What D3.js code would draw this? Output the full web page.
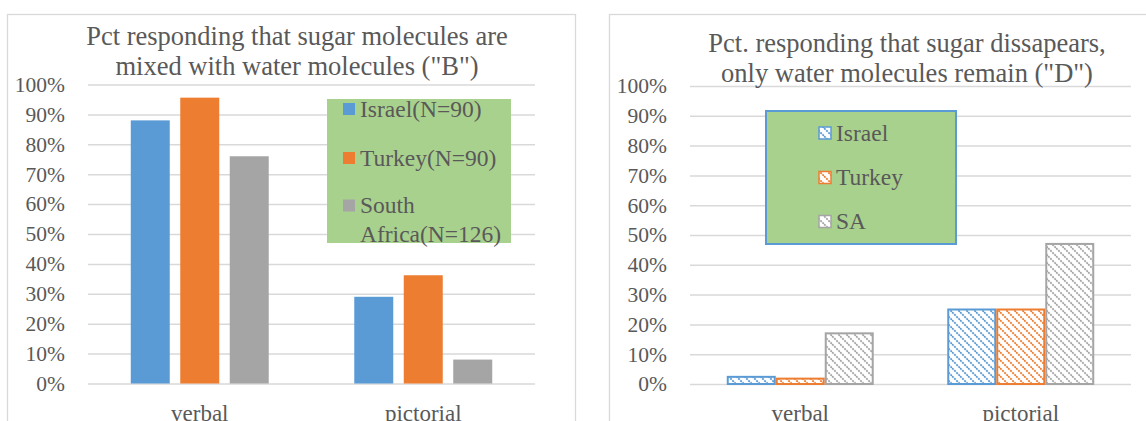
<!DOCTYPE html>
<html>
<head>
<meta charset="utf-8">
<script src="https://cdn.jsdelivr.net/npm/d3@7"></script>
<style>
  body { margin: 0; background: #fff; }
  svg { display: block; }
</style>
</head>
<body>
<script>
// values (percent)
var categories = ["verbal", "pictorial"];
var yTicks = [0, 10, 20, 30, 40, 50, 60, 70, 80, 90, 100];

var leftSeries = ["Israel(N=90)", "Turkey(N=90)", "South Africa(N=126)"];
var leftLegend = [["Israel(N=90)"], ["Turkey(N=90)"], ["South", "Africa(N=126)"]];
var leftIsrael = [88, 29];
var leftTurkey = [95.6, 36.2];
var leftSA = [76, 8];
var leftTitle = ["Pct responding that sugar molecules are", "mixed with water molecules (\"B\")"];

var rightSeries = ["Israel", "Turkey", "SA"];
var rightIsrael = [2.4, 25];
var rightTurkey = [1.8, 25];
var rightSA = [17, 47];
var rightTitle = ["Pct. responding that sugar dissapears,", "only water molecules remain (\"D\")"];

var colors = ["#5B9BD5", "#ED7D31", "#A5A5A5"];
var FONT = "Liberation Serif";
var INK = "#595959";

var svg = d3.select("body").append("svg")
    .attr("width", 1146)
    .attr("height", 421);

// hatch patterns for the right chart
var defs = svg.append("defs");
colors.forEach(function(c, i) {
    var p = defs.append("pattern")
        .attr("id", "hatch" + i)
        .attr("patternUnits", "userSpaceOnUse")
        .attr("width", 8)
        .attr("height", 8);
    p.append("rect").attr("width", 8).attr("height", 8).attr("fill", "#fff");
    p.append("path")
        .attr("d", "M-2,-2L10,10M-2,6L2,10M6,-2L10,2")
        .attr("stroke", c)
        .attr("stroke-width", 1.8)
        .attr("stroke-dasharray", "2,1");
});

function label(sel, size) {
    return sel.style("font-family", FONT)
        .attr("font-size", size)
        .attr("fill", INK);
}

function drawChart(cfg) {
    var g = svg.append("g");

    // chart frame
    g.append("rect")
        .attr("x", cfg.frame[0] + 0.5)
        .attr("y", 14.5)
        .attr("width", cfg.frame[1] - cfg.frame[0])
        .attr("height", 440)
        .attr("fill", "none")
        .attr("stroke", "#D9D9D9")
        .attr("stroke-width", 1.3);

    var x0 = d3.scaleBand()
        .domain(categories)
        .range(cfg.xRange);
    var x1 = d3.scaleBand()
        .domain(cfg.series)
        .range([0, x0.bandwidth()])
        .paddingInner(cfg.padInner)
        .paddingOuter(cfg.padOuter);
    var y = d3.scaleLinear()
        .domain([0, 100])
        .range(cfg.yRange);

    // gridlines
    g.append("g")
        .attr("transform", "translate(" + cfg.xRange[0] + ",0)")
        .call(d3.axisLeft(y).tickValues(yTicks)
            .tickSize(-(cfg.xRange[1] - cfg.xRange[0])).tickFormat(""))
        .call(function(a) {
            a.select(".domain").remove();
            a.selectAll("line").attr("stroke", "#D9D9D9").attr("stroke-width", 1.5);
        });

    // y labels
    g.append("g")
        .attr("transform", "translate(" + cfg.labelX + ",0)")
        .call(d3.axisLeft(y).tickValues(yTicks).tickSize(0).tickPadding(0)
            .tickFormat(function(d) { return d + "%"; }))
        .call(function(a) {
            a.select(".domain").remove();
            label(a.selectAll("text"), 21.5);
        });

    // bars
    var rows = [];
    categories.forEach(function(c, ci) {
        cfg.values.forEach(function(vals, si) {
            rows.push({ cat: c, s: cfg.series[si], si: si, v: vals[ci] });
        });
    });
    g.selectAll("rect.bar")
        .data(rows)
        .enter()
        .append("rect")
        .attr("class", "bar")
        .attr("x", function(d) { return x0(d.cat) + x1(d.s) + (cfg.hatch ? 1 : 0); })
        .attr("y", function(d) { return y(d.v); })
        .attr("width", x1.bandwidth() - (cfg.hatch ? 2 : 0))
        .attr("height", function(d) { return y(0) - y(d.v); })
        .attr("fill", function(d) { return cfg.hatch ? "url(#hatch" + d.si + ")" : colors[d.si]; })
        .attr("stroke", function(d) { return cfg.hatch ? colors[d.si] : "none"; })
        .attr("stroke-width", 2);

    // category labels
    label(g.selectAll("text.cat")
        .data(categories)
        .enter()
        .append("text")
        .attr("class", "cat")
        .attr("x", function(d) { return x0(d) + x0.bandwidth() / 2; })
        .attr("y", 421)
        .attr("text-anchor", "middle"), 23)
        .text(function(d) { return d; });

    // title
    label(g.selectAll("text.title")
        .data(cfg.title)
        .enter()
        .append("text")
        .attr("class", "title")
        .attr("x", cfg.titleX)
        .attr("y", function(d, i) { return cfg.titleY + i * 29.5; })
        .attr("text-anchor", "middle"), 26.5)
        .text(function(d) { return d; });

    // legend
    var L = cfg.legend;
    g.append("rect")
        .attr("x", L.box[0])
        .attr("y", L.box[1])
        .attr("width", L.box[2])
        .attr("height", L.box[3])
        .attr("fill", "#A9D18E")
        .attr("stroke", L.stroke || "none")
        .attr("stroke-width", 2);
    L.labels.forEach(function(lines, i) {
        var by = L.baseY[i];
        g.append("rect")
            .attr("x", L.swX)
            .attr("y", by - 13.5)
            .attr("width", 12)
            .attr("height", 12)
            .attr("fill", cfg.hatch ? "url(#hatch" + i + ")" : colors[i])
            .attr("stroke", cfg.hatch ? colors[i] : "none")
            .attr("stroke-width", 1.5);
        lines.forEach(function(t, j) {
            label(g.append("text")
                .attr("x", L.textX)
                .attr("y", by + j * 28.5), 23.5)
                .text(t);
        });
    });
}

drawChart({
    frame: [7, 575],
    xRange: [88, 535],
    yRange: [383.5, 84.5],
    labelX: 65,
    series: leftSeries,
    values: [leftIsrael, leftTurkey, leftSA],
    padInner: 0.212,
    padOuter: 0.864,
    hatch: false,
    title: leftTitle,
    titleX: 297,
    titleY: 45,
    legend: {
        box: [327, 99, 184, 144],
        labels: leftLegend,
        baseY: [116.5, 165.5, 213],
        swX: 343,
        textX: 360
    }
});

drawChart({
    frame: [609, 1160],
    xRange: [690, 1131],
    yRange: [384, 86],
    labelX: 667,
    series: rightSeries,
    values: [rightIsrael, rightTurkey, rightSA],
    padInner: 0,
    padOuter: 0.75,
    hatch: true,
    title: rightTitle,
    titleX: 907,
    titleY: 52,
    legend: {
        box: [766, 111, 190, 133],
        stroke: "#5B9BD5",
        labels: [[rightSeries[0]], [rightSeries[1]], [rightSeries[2]]],
        baseY: [140.5, 185, 229],
        swX: 819,
        textX: 836
    }
});
</script>
</body>
</html>
